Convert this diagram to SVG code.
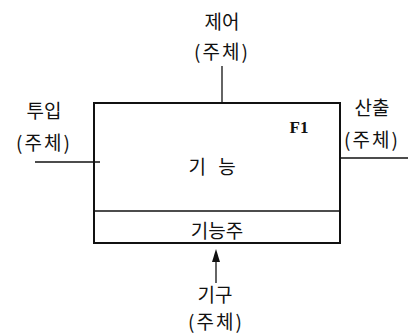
<svg xmlns="http://www.w3.org/2000/svg" width="408" height="335" viewBox="0 0 408 335">
<style>
text{font-family:"Noto Sans CJK KR","Noto Sans",sans-serif;font-size:19px;fill:#111;text-anchor:middle}
.p{letter-spacing:2px}
.f{font-family:"Liberation Serif",serif;font-weight:bold;font-size:17px}
.ln{stroke:#111;stroke-width:1.3;fill:none}
</style>
<g id="connectors">
<line class="ln" x1="222" y1="66" x2="222" y2="103"/>
<line class="ln" x1="35" y1="162" x2="100" y2="162"/>
<line class="ln" x1="340" y1="158" x2="408" y2="158"/>
<line class="ln" x1="216" y1="283" x2="216" y2="258"/>
<polygon points="216,249 220,262 212,262" fill="#111"/>
</g>
<g id="function">
<rect x="94" y="103" width="246" height="140" fill="none" stroke="#111" stroke-width="2"/>
<line class="ln" x1="94" y1="211" x2="340" y2="211" stroke-width="1"/>
<text x="214" y="174" letter-spacing="4">기 능</text>
<text class="f" x="299" y="133">F1</text>
<text x="217" y="238">기능주</text>
</g>
<g id="control"><text x="222" y="29">제어</text><text class="p" x="222" y="59">(주체)</text></g>
<g id="input"><text x="44" y="118">투입</text><text class="p" x="44" y="150">(주체)</text></g>
<g id="output"><text x="372" y="115">산출</text><text class="p" x="372" y="147">(주체)</text></g>
<g id="mechanism"><text x="215" y="302">기구</text><text class="p" x="216" y="329">(주체)</text></g>
</svg>
